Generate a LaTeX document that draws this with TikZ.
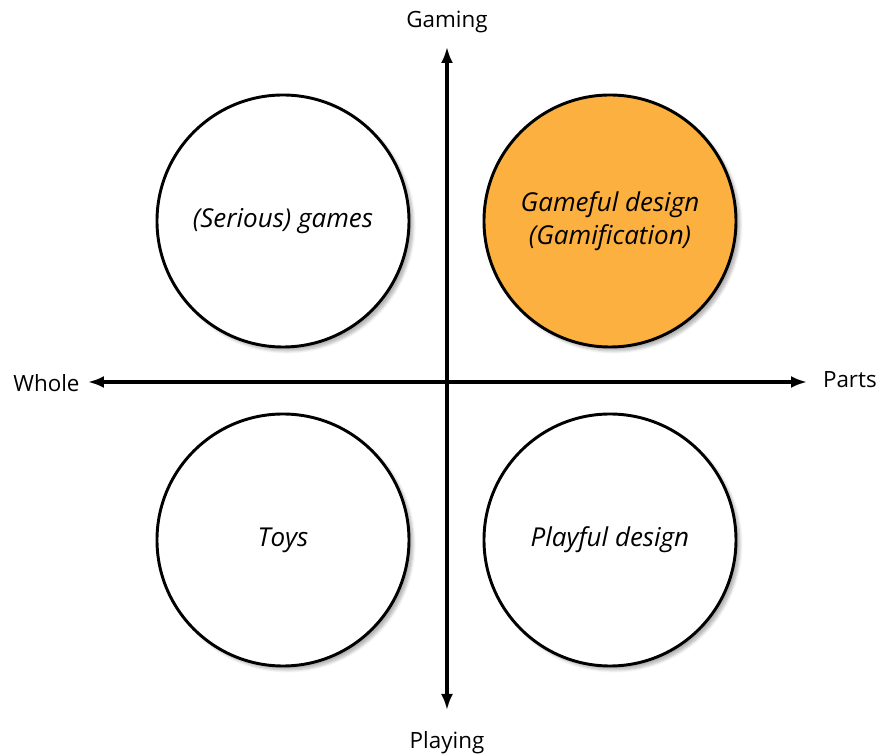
\documentclass[tikz,border=0pt]{standalone}
\usepackage{fontspec}
\setmainfont{Open Sans}
\usetikzlibrary{arrows.meta,shadows.blur}
\definecolor{gameorange}{RGB}{251,176,64}
\tikzset{
  quad/.style={circle,draw,line width=2.2pt,minimum size=189pt,inner sep=0pt,
    fill=white,align=center,font=\itshape\fontsize{19.5}{25}\selectfont,
    blur shadow={shadow xshift=3pt,shadow yshift=-3pt,shadow blur steps=6,shadow opacity=30}},
  axis/.style={line width=2.3pt,-{Latex[length=12pt,width=9pt]}},
  axlabel/.style={font=\fontsize{16.8}{20}\selectfont,inner sep=0pt}
}
\begin{document}
\begin{tikzpicture}[x=0.75pt,y=0.75pt]
  \useasboundingbox(-447,-374) rectangle(432,382);
  % axes
  \coordinate(o) at(0,0);
  \coordinate(top) at(0,335);
  \coordinate(bot) at(0,-328);
  \coordinate(lft) at(-359,0);
  \coordinate(rgt) at(360,0);
  \draw[axis](o)--(top);
  \draw[axis](o)--(bot);
  \draw[axis](o)--(lft);
  \draw[axis](o)--(rgt);
  \node[axlabel] (gaming) at(0,360){Gaming};
  \node[axlabel] (playing) at(0,-361){Playing};
  \node[axlabel,right] (whole) at(-434,-1){Whole};
  \node[axlabel,left] (parts) at(430,2){Parts};
  % quadrants
  \node[quad] (games) at(-164,161){(Serious) games};
  \node[quad,fill=gameorange] (gameful) at(163,161){Gameful design\\(Gamification)};
  \node[quad] (toys) at(-164,-158){Toys};
  \node[quad] (playful) at(163,-158){Playful design};
\end{tikzpicture}
\end{document}
